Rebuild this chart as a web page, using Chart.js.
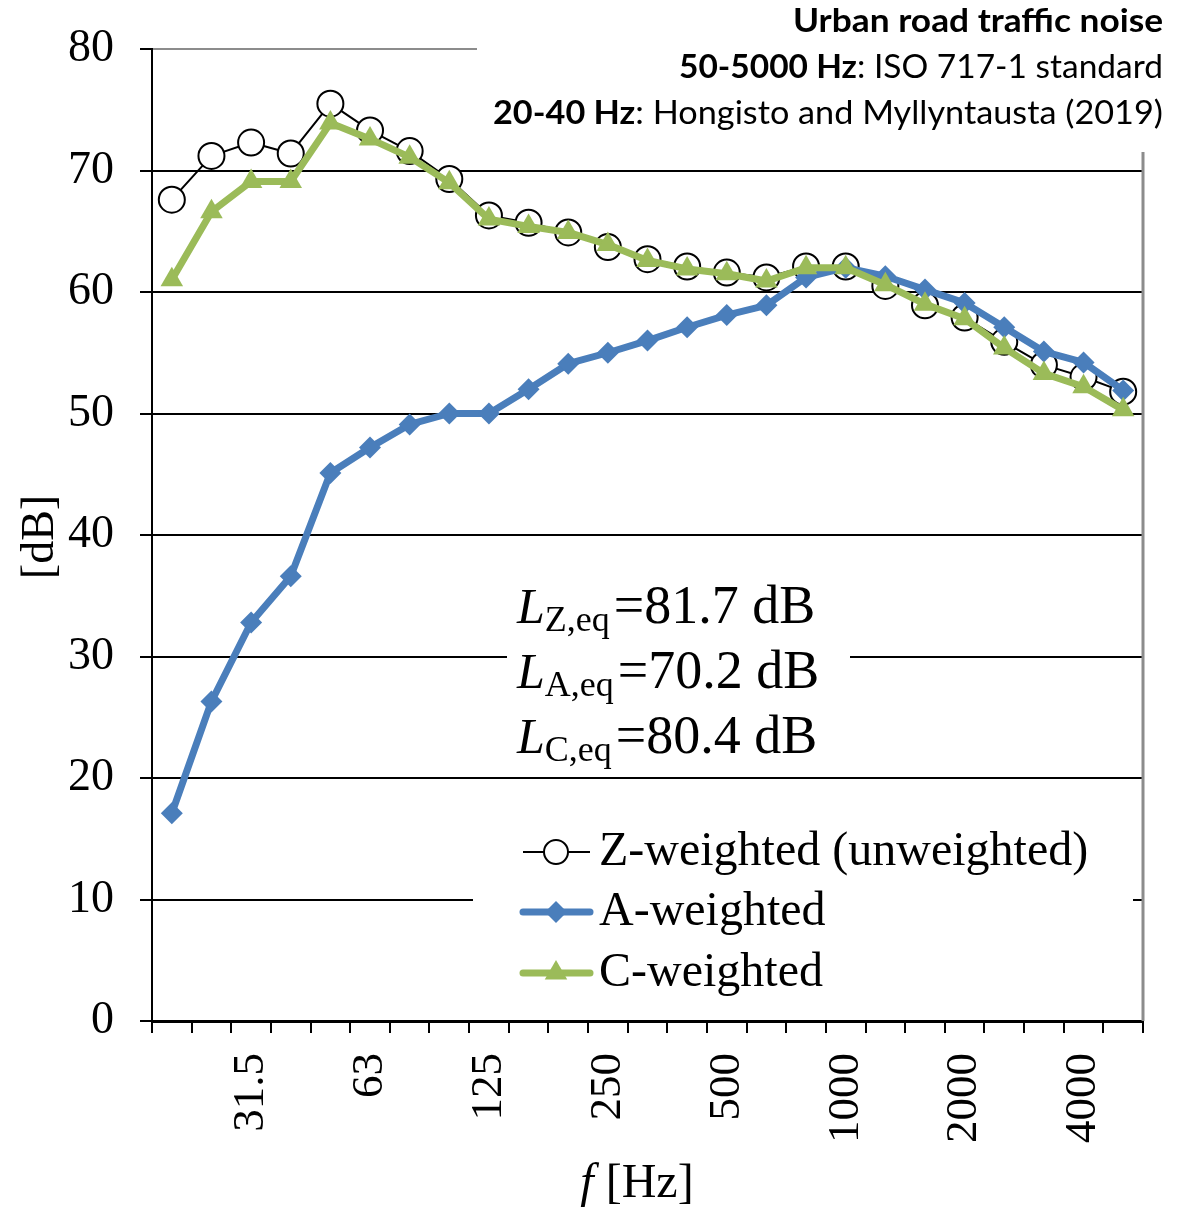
<!DOCTYPE html>
<html>
<head>
<meta charset="utf-8">
<title>Urban road traffic noise spectrum</title>
<script src="https://cdn.jsdelivr.net/npm/chart.js@4"></script>
<style>
  html, body { margin: 0; padding: 0; background: #fff; }
</style>
</head>
<body>
<canvas id="noiseChart" width="1184" height="1211"></canvas>
<script>
// third-octave band centre frequencies, Hz
const bands = ['20', '25', '31.5', '40', '50', '63', '80', '100', '125', '160', '200', '250',
  '315', '400', '500', '630', '800', '1000', '1250', '1600', '2000', '2500', '3150', '4000', '5000'];
// bands that get a label under the axis
const shownTicks = ['31.5', '63', '125', '250', '500', '1000', '2000', '4000'];

// band levels, dB
const zWeighted = [67.6, 71.2, 72.3, 71.4, 75.5, 73.3, 71.6, 69.3, 66.3, 65.7, 64.9, 63.7,
  62.7, 62.1, 61.6, 61.2, 62.1, 62.1, 60.5, 58.9, 57.9, 55.9, 54.0, 53.0, 51.8];
const aWeighted = [17.1, 26.3, 32.8, 36.6, 45.1, 47.2, 49.1, 50.0, 50.0, 52.0, 54.1, 55.0,
  56.0, 57.1, 58.1, 58.9, 61.2, 62.0, 61.3, 60.2, 59.1, 57.1, 55.1, 54.2, 51.9];
const cWeighted = [61.0, 66.6, 69.1, 69.1, 73.9, 72.6, 71.1, 69.0, 66.0, 65.4, 64.9, 63.9,
  62.6, 61.9, 61.5, 60.9, 62.0, 62.0, 60.6, 59.0, 57.8, 55.4, 53.3, 52.2, 50.3];

// overall equivalent levels
const leqNames = ['Z,eq', 'A,eq', 'C,eq'];
const leqValues = [81.7, 70.2, 80.4];

const SERIF = '"Liberation Serif", "Times New Roman", serif';
const SANS = 'Lato, "Liberation Sans", sans-serif';
const BLUE = '#4A7EBB';
const GREEN = '#9BBB59';

// gray right frame + white panels that hide the grid behind the texts
const backdrop = {
  id: 'backdrop',
  beforeDatasetsDraw(chart) {
    const { ctx, chartArea: a } = chart;
    ctx.save();
    ctx.strokeStyle = '#8c8c8c';
    ctx.lineWidth = 3;
    ctx.beginPath();
    ctx.moveTo(a.right, a.top);
    ctx.lineTo(a.right, a.bottom);
    ctx.stroke();
    ctx.fillStyle = '#fff';
    ctx.fillRect(477, 0, chart.width - 477, 152);
    ctx.fillRect(507, 570, 343, 192);
    ctx.fillRect(473, 815, a.right - 10 - 473, 190);
    ctx.restore();
  }
};

// mixed bold/regular line, right aligned and fitted to a width
function headingLine(ctx, runs, right, y, width) {
  let total = 0;
  runs.forEach(r => {
    ctx.font = (r.bold ? 'bold ' : '') + '32px ' + SANS;
    r.w = ctx.measureText(r.text).width;
    total += r.w;
  });
  ctx.save();
  ctx.translate(right - width, y);
  ctx.scale(width / total, 1);
  let x = 0;
  runs.forEach(r => {
    ctx.font = (r.bold ? 'bold ' : '') + '32px ' + SANS;
    ctx.fillText(r.text, x, 0);
    x += r.w;
  });
  ctx.restore();
}

function marker(ctx, style, x, y, r) {
  ctx.beginPath();
  if (style === 'circle') {
    ctx.arc(x, y, r, 0, Math.PI * 2);
  } else if (style === 'rectRot') {
    ctx.moveTo(x, y - r); ctx.lineTo(x + r, y); ctx.lineTo(x, y + r); ctx.lineTo(x - r, y);
  } else {
    for (let k = 0; k < 3; k++) {
      const ang = k * 2 * Math.PI / 3;
      const px = x + Math.sin(ang) * r, py = y - Math.cos(ang) * r;
      k ? ctx.lineTo(px, py) : ctx.moveTo(px, py);
    }
  }
  ctx.closePath();
}

const annotations = {
  id: 'annotations',
  afterDraw(chart) {
    const { ctx } = chart;
    ctx.save();
    ctx.fillStyle = '#000';
    ctx.textBaseline = 'middle';
    ctx.textAlign = 'left';

    headingLine(ctx, [{ text: 'Urban road traffic noise', bold: true }], 1163, 22, 370);
    headingLine(ctx, [{ text: '50-5000 Hz', bold: true }, { text: ': ISO 717-1 standard' }], 1163, 68, 484);
    headingLine(ctx, [{ text: '20-40 Hz', bold: true }, { text: ': Hongisto and Myllyntausta (2019)' }], 1163, 114, 670);

    // L_eq block
    ctx.textBaseline = 'alphabetic';
    leqNames.forEach((n, i) => {
      const base = 623 + i * 65;
      let x = 517;
      ctx.font = 'italic 50px ' + SERIF;
      ctx.fillText('L', x, base);
      x += ctx.measureText('L').width;
      ctx.font = '36px ' + SERIF;
      ctx.fillText(n, x, base + 8);
      x += ctx.measureText(n).width + 4;
      ctx.font = '54px ' + SERIF;
      ctx.fillText('=' + leqValues[i].toFixed(1) + ' dB', x, base);
    });

    // legend
    const rows = [852, 912, 973];
    chart.data.datasets.forEach((ds, i) => {
      const y = rows[i];
      ctx.strokeStyle = ds.borderColor;
      ctx.lineWidth = ds.borderWidth;
      ctx.lineCap = ds.borderWidth > 3 ? 'round' : 'butt';
      ctx.beginPath();
      ctx.moveTo(523, y);
      ctx.lineTo(590, y);
      ctx.stroke();
      marker(ctx, ds.pointStyle, 556, y, ds.pointStyle === 'circle' ? 12 : ds.pointRadius);
      ctx.fillStyle = ds.pointBackgroundColor;
      ctx.fill();
      if (ds.pointBorderWidth) {
        ctx.lineWidth = ds.pointBorderWidth;
        ctx.strokeStyle = ds.pointBorderColor;
        ctx.stroke();
      }
      ctx.fillStyle = '#000';
      ctx.font = '48px ' + SERIF;
      ctx.textBaseline = 'middle';
      ctx.fillText(ds.label, 599, y);
    });

    // axis titles
    ctx.font = '46px ' + SERIF;
    ctx.textAlign = 'center';
    ctx.save();
    ctx.translate(41, 537);
    ctx.rotate(-Math.PI / 2);
    ctx.fillText('[dB]', 0, 0);
    ctx.restore();

    ctx.textAlign = 'left';
    ctx.font = 'italic 48px ' + SERIF;
    const fw = ctx.measureText('f').width;
    ctx.font = '48px ' + SERIF;
    const hw = ctx.measureText(' [Hz]').width;
    const x0 = 637 - (fw + hw) / 2;
    ctx.font = 'italic 48px ' + SERIF;
    ctx.fillText('f', x0, 1184);
    ctx.font = '48px ' + SERIF;
    ctx.fillText(' [Hz]', x0 + fw, 1184);
    ctx.restore();
  }
};

new Chart(document.getElementById('noiseChart'), {
  type: 'line',
  data: {
    labels: bands,
    datasets: [
      {
        label: 'Z-weighted (unweighted)',
        data: zWeighted,
        borderColor: '#000',
        borderWidth: 2,
        pointStyle: 'circle',
        pointRadius: 13,
        pointBackgroundColor: '#fff',
        pointBorderColor: '#000',
        pointBorderWidth: 2,
        order: 3
      },
      {
        label: 'A-weighted',
        data: aWeighted,
        borderColor: BLUE,
        borderWidth: 7,
        pointStyle: 'rectRot',
        pointRadius: 11,
        pointBackgroundColor: BLUE,
        pointBorderColor: BLUE,
        pointBorderWidth: 0,
        order: 2
      },
      {
        label: 'C-weighted',
        data: cWeighted,
        borderColor: GREEN,
        borderWidth: 7,
        pointStyle: 'triangle',
        pointRadius: 13,
        pointBackgroundColor: GREEN,
        pointBorderColor: GREEN,
        pointBorderWidth: 0,
        order: 1
      }
    ]
  },
  options: {
    responsive: false,
    animation: false,
    devicePixelRatio: 1,
    layout: { padding: { top: 49, right: 41, left: 0, bottom: 0 } },
    elements: { line: { tension: 0, borderJoinStyle: 'round' } },
    plugins: {
      legend: { display: false },
      tooltip: { enabled: false }
    },
    scales: {
      x: {
        type: 'category',
        offset: true,
        afterFit: s => {
          s.height = 190;
          s.paddingLeft = 0;
          s.paddingRight = 0;
        },
        grid: {
          display: true,
          drawOnChartArea: false,
          offset: true,
          tickLength: 12,
          color: '#000',
          lineWidth: 2
        },
        border: { display: true, color: '#000', width: 3 },
        ticks: {
          autoSkip: false,
          maxRotation: 90,
          minRotation: 90,
          padding: 20,
          color: '#000',
          font: { family: SERIF, size: 45 },
          callback: (v, i) => shownTicks.includes(bands[i]) ? bands[i] : ''
        }
      },
      y: {
        min: 0,
        max: 80,
        afterFit: s => {
          s.width = 152;
          s.paddingTop = 0;
          s.paddingBottom = 0;
        },
        grid: {
          color: c => c.tick && c.tick.value === 80 ? '#8c8c8c' : '#000',
          tickColor: '#000',
          lineWidth: 2,
          tickLength: 12
        },
        border: { display: true, color: '#000', width: 2 },
        ticks: {
          stepSize: 10,
          padding: 26,
          color: '#000',
          font: { family: SERIF, size: 46 }
        }
      }
    }
  },
  plugins: [backdrop, annotations]
});
</script>
</body>
</html>
